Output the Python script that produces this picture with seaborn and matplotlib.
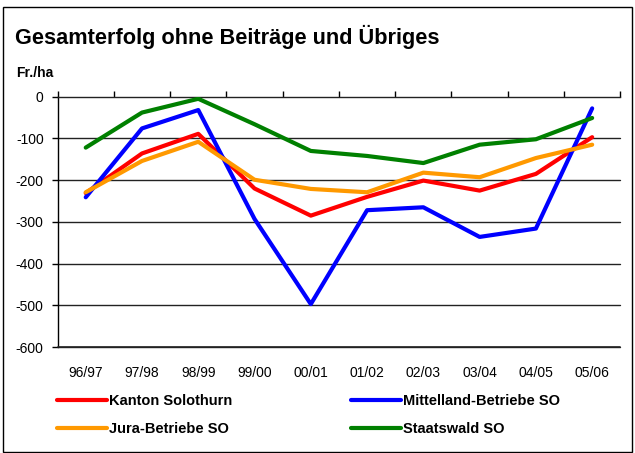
import matplotlib
matplotlib.use("Agg")
import matplotlib.pyplot as plt
import seaborn as sns
import pandas as pd
from matplotlib.patches import Rectangle
from matplotlib.lines import Line2D

years = ["96/97", "97/98", "98/99", "99/00", "00/01", "01/02", "02/03", "03/04", "04/05", "05/06"]
kanton = [-231, -136, -89, -220, -285, -240, -201, -225, -185, -97]
mittelland = [-241, -76, -32, -293, -497, -272, -265, -336, -316, -28]
jura = [-229, -154, -108, -199, -221, -229, -182, -193, -147, -115]
staatswald = [-122, -38, -5, -66, -130, -142, -159, -115, -102, -51]

series_names = ["Kanton Solothurn", "Mittelland-Betriebe SO", "Jura-Betriebe SO", "Staatswald SO"]
series_values = [kanton, mittelland, jura, staatswald]
colors = ["#FF0000", "#0000FF", "#FF9900", "#008000"]
yticks = [0, -100, -200, -300, -400, -500, -600]

rows = []
for name, vals in zip(series_names, series_values):
    for i, (yr, v) in enumerate(zip(years, vals)):
        rows.append({"idx": i, "year": yr, "value": v, "series": name})
df = pd.DataFrame(rows)

sns.set_theme(style="white")
plt.rcParams["font.family"] = ["Liberation Sans", "DejaVu Sans"]

W, H = 635, 453
fig = plt.figure(figsize=(W / 100, H / 100), dpi=100)
fig.patch.set_facecolor("white")
ax = fig.add_axes([57.6 / W, 1 - 347.5 / H, (620.3 - 57.6) / W, (347.5 - 96.7) / H])

sns.lineplot(data=df, x="idx", y="value", hue="series", hue_order=series_names,
             palette=colors, linewidth=3.0, ax=ax, legend=False, zorder=3)

ax.set_xlim(-0.5, len(years) - 0.5)
ax.set_ylim(-601, 0)
ax.set_yticks(yticks)
ax.set_yticklabels([str(t) for t in yticks], fontsize=10, color="black")
ax.set_xticks(range(len(years)))
ax.set_xticklabels(years, fontsize=10, color="black")
ax.set_xticks([i - 0.5 for i in range(len(years) + 1)], minor=True)
ax.tick_params(axis="x", which="major", bottom=False, top=False, length=0, pad=13)
ax.tick_params(axis="x", which="minor", top=True, bottom=False, direction="out", length=4, width=1, color="black")
ax.tick_params(axis="y", which="major", left=True, direction="out", length=4, width=1, color="black", pad=6)
ax.set_xlabel("")
ax.set_ylabel("")
for yv in yticks[1:]:
    ax.axhline(yv, color="#222222", linewidth=1.0, zorder=1, clip_on=False)
ax.spines["right"].set_visible(False)
ax.spines["bottom"].set_visible(False)
ax.spines["top"].set_color("#222222")
ax.spines["top"].set_linewidth(1.0)
ax.spines["left"].set_color("black")
ax.spines["left"].set_linewidth(1.0)
ax.spines["left"].set_bounds(-600, 0)
ax.grid(False)

# explicit baseline at -600 in figure coordinates (same row as the axis bottom)
y_base = ax.transData.transform((0, -600))[1] / fig.dpi / fig.get_size_inches()[1]
fig.lines.append(Line2D([57.6 / W, 620.3 / W], [y_base, y_base], transform=fig.transFigure,
                        color="#222222", linewidth=1.2, zorder=20))

fig.text(15 / W, 1 - 37 / H, "Gesamterfolg ohne Beiträge und Übriges", fontsize=15.7,
         fontweight="bold", ha="left", va="center", color="black")
fig.text(16 / W, 1 - 73 / H, "Fr./ha", fontsize=10, fontweight="bold", ha="left", va="center", color="black")

lines = ax.get_lines()
handles = {name: ln for name, ln in zip(series_names, lines[:4])}
leg_kw = dict(frameon=False, loc="upper left", handlelength=3.4, handletextpad=0.15,
              labelspacing=0.95, borderpad=0, borderaxespad=0,
              prop={"weight": "bold", "size": 10.5})
leg1 = fig.legend([handles[series_names[0]], handles[series_names[2]]],
                  [series_names[0], series_names[2]],
                  bbox_to_anchor=(57 / W, 1 - 394 / H), **leg_kw)
leg2 = fig.legend([handles[series_names[1]], handles[series_names[3]]],
                  [series_names[1], series_names[3]],
                  bbox_to_anchor=(351 / W, 1 - 394 / H), **leg_kw)
for leg in (leg1, leg2):
    for t in leg.get_texts():
        t.set_color("black")

fig.patches.append(Rectangle((3 / W, 1 - 451.5 / H), (632 - 3) / W, (451.5 - 6.5) / H,
                             transform=fig.transFigure, fill=False, edgecolor="black",
                             linewidth=1.0, zorder=10))

fig.savefig("out.png", dpi=100)
